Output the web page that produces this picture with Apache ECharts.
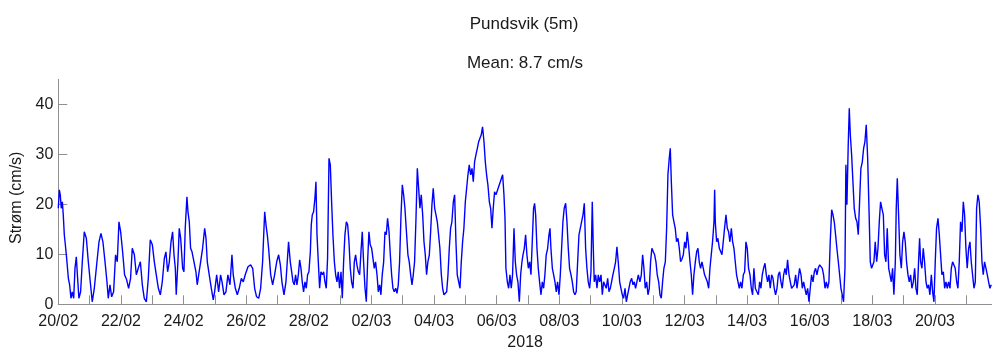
<!DOCTYPE html>
<html><head><meta charset="utf-8">
<script src="https://cdn.jsdelivr.net/npm/echarts@6/dist/echarts.min.js"></script>
<style>html,body{margin:0;padding:0;background:#fff}#c{width:992px;height:349px}</style>
</head><body><div id="c"></div>
<script>
const titleText = 'Pundsvik (5m)';
const subtitleText = 'Mean: 8.7 cm/s';
const yAxisName = 'Strøm (cm/s)';
const xAxisName = '2018';
// tick labels every 2 days, starting 20/02/2018 00:00
const dateLabels = ['20/02','22/02','24/02','26/02','28/02','02/03','04/03','06/03','08/03','10/03','12/03','14/03','16/03','18/03','20/03'];
const yTicks = [0, 10, 20, 30, 40];
// hours since 20/02/2018 00:00
const hours = [
0,0.8,1.5,2.3,3.1,3.8,4.6,5.4,6.4,7.7,8.7,9.7,10.7,11.8,12.8,13.8,14.8,15.8,17.1,18.4,19.9,21.5,23,24.5,26,27.6,29.4,31.2,32.7,34.2,35.8,37.3,38.3,39.6,40.9,42.4,43.9,45.2,46.5,47.8,49.3,50.8,52.4,53.9,55.4,56.7,58.3,59.8,61.3,62.9,64.4,65.9,67.5,69,70.5,72.1,73.6,75.1,76.7,78.2,79.7,81.3,82.5,83.8,85.1,86.4,
87.6,88.7,89.7,90.4,91.7,92.7,93.8,95.3,96.3,97.3,98.6,99.4,100.4,101.4,102.5,104,105.5,106.5,107.6,109.1,110.6,112.2,113.2,114.2,115.7,117.3,118.8,119.8,121.4,122.9,124.4,125.5,127,128.5,130,131.6,133.1,134.1,135.7,137.2,138.7,140.3,141.8,143.3,145.4,147.4,149,150.5,152,153.6,155.1,156.6,158.2,159.2,160.2,161.2,162.8,164.3,165.8,167.4,168.9,170.2,171.4,173,174.5,175.5,176.5,
177.8,178.9,179.9,180.9,181.9,182.9,184,185,186,187,188,189.1,190.1,191.1,192.1,193.2,193.9,194.7,195.7,196.7,197.5,198.3,199.3,200.3,201.3,202.4,203.4,204.4,205.4,206.4,207.5,208.5,209.5,210.5,211.6,212.6,213.6,214.6,215.6,216.7,217.7,218.7,219.7,220.8,221.8,222.8,223.8,224.8,225.9,226.9,227.9,228.9,230,231,232,233,234,235.1,236.1,237.1,238.1,239.1,240.2,241.2,242.2,243.2,244.3,245.3,246.3,247.3,248.3,249.4,250.4,251.4,252.4,253.5,254.5,255.5,256.5,257.5,258.6,259.6,260.6,261.6,262.7,263.7,264.7,265.7,
267,268,269,270.1,271.1,272.1,273.1,274.1,275.2,276.2,277.2,278.2,279.3,280.3,281.3,282.3,283.3,284.4,285.4,286.4,287.4,288.5,289.5,290.5,291.5,292.5,293.6,294.6,295.6,296.6,297.7,298.7,299.7,300.7,301.7,302.8,303.8,304.8,305.8,306.9,307.9,308.9,309.9,310.9,312,313,314,315,316.1,317.1,318.1,319.1,320.1,321.2,322.2,323.2,324.2,325.2,326.3,327.3,328.3,329.3,330.4,331.4,332.4,333.4,334.4,335.5,340.6,341.6,342.4,343.1,344.2,345.2,346.2,347.2,348.2,349.3,350.3,351.3,352.3,353.4,354.4,355.4,
356.2,357.2,358.2,359.2,360.3,361.3,362.3,363.3,364.3,365.1,365.9,366.9,367.9,368.9,370,371,372,373,374,375.1,376.1,376.9,377.6,378.7,379.7,380.7,381.7,382.7,383.8,384.8,385.8,386.8,387.8,388.9,389.9,390.9,391.9,393,394,395,396,397,398.1,399.1,400.1,401.1,402.2,403.2,404.2,405.2,406.2,407.3,408.3,409.3,410.1,410.8,411.9,412.9,413.9,414.9,416,417,418,419,420,421.1,422.1,423.1,424.1,425.1,426.2,427.2,428.2,429.2,430.3,431.3,432.3,433.3,434.4,435.4,436.4,437.4,438.4,439.5,440.5,441.5,442.5,443.5,444.6,
445.8,446.9,447.9,448.9,449.9,451,452,453,454,455,456.1,457.1,458.1,459.1,460.2,461.2,462.2,463.2,464.2,465.3,466.3,467.3,468.3,469.1,469.9,470.9,471.9,472.9,473.9,475,476,477,478,479.1,480.1,481.1,482.1,483.1,484.2,485.2,486.2,487.2,488.3,489.3,490.3,491.3,492.3,493.4,494.4,495.4,496.4,497.5,498.5,499.5,500.5,501.5,502.6,503.1,503.6,504.6,505.6,506.7,507.7,508.7,509.7,510.7,511.8,512.8,513.8,514.8,515.9,516.9,517.9,518.9,519.9,521,522,523,524,525.1,526.1,527.1,528.1,529.1,530.2,531.2,532.2,533.2,534.3,
535.5,536.6,537.6,538.6,539.6,540.6,541.7,542.7,543.7,544.7,545.7,546.8,547.8,548.8,549.8,550.9,551.9,552.9,553.9,554.9,556,557,558,559,560.1,561.1,562.1,563.1,564.1,565.2,566.2,567.2,568.2,569.3,570.3,571.3,572.3,573.3,574.4,575.4,576.4,577.4,578.5,579.5,580.5,581.5,582.5,583.6,584.6,585.6,586.6,587.7,588.7,589.7,590.7,591.7,592.8,593.8,594.8,595.8,596.8,597.9,598.9,599.9,600.9,601.9,603,603.7,604.5,605.5,606.3,607.1,608.1,609.1,610.1,611.2,612.2,613.2,614.2,615.2,616.3,617.3,618.3,619.3,620.4,621.4,622.4,623.4,
625.2,626.2,627.3,628.3,629.3,630.3,631.3,632.4,633.4,634.4,635.4,636.5,637.5,638.5,639.5,640.5,641.6,642.3,643.1,644.1,645.1,646.2,647.2,648.2,649.2,650.2,651.3,652.3,653.3,654.3,655.4,656.4,657.4,658.4,659.4,660.2,661,662,663,664,665.1,666.1,667.1,668.1,669.2,670.2,671.2,672.2,673.2,674.3,675.3,676.3,677.3,678.4,679.4,680.4,681.4,682.4,683.5,684.5,685.5,686.5,687.5,688.6,689.6,690.6,691.6,692.7,693.7,694.7,695.7,696.7,697.8,698.8,699.8,700.8,701.9,702.9,703.9,704.9,705.9,707,708,709,710,711.1,712.1,713.1,714.1,715.1
];
// current speed, cm/s
const speed = [
19.2,22.9,21.9,19.2,20.5,17.9,13.9,11.9,9.2,5.2,3.9,1.2,2.5,1.2,7.2,9.5,5.2,1.2,2.5,8.5,14.5,13.2,8.5,4.5,0.5,3.2,7.9,12.5,14.2,12.5,8.5,4.5,1.2,3.9,1.5,2.5,9.9,8.5,16.5,14.5,10.5,5.9,4.9,3.2,5.2,11.2,9.9,5.9,7.2,8.5,3.9,1.2,0.5,5.2,12.9,11.9,8.5,5.9,3.2,1.9,4.5,9.2,10.5,6.5,8.5,12.5,
14.5,9.9,7.2,1.9,8.5,15.2,13.2,7.2,6.5,15.2,21.5,18.5,16.5,11.2,10.5,8.5,6.5,3.9,5.9,8.5,11.2,15.2,13.2,8.5,5.9,3.2,0.9,2.5,5.9,2.5,5.9,4.5,1.9,2.5,5.9,3.9,9.9,5.9,3.2,1.9,3.2,5.2,4.5,5.9,7.5,7.9,7.2,3.2,1.5,1.2,3.2,8.5,18.5,15.9,13.9,11.2,5.9,3.9,5.9,8.5,9.9,7.9,4.5,1.9,4.5,8.5,12.5,
8.5,6.5,4.5,3.9,5.9,3.9,5.9,8.9,7.2,4.5,2.5,4.5,3.2,5.9,6.5,10.5,15.9,17.9,18.5,21.2,24.5,13.9,8.5,3.2,6.5,5.9,6.5,4.5,3.2,9.2,29.2,27.9,20.5,13.9,8.5,5.9,4.5,6.5,3.2,6.5,1.2,8.5,13.9,16.5,15.9,12.5,7.2,4.5,3.2,8.5,9.9,7.9,6.5,5.9,10.5,14.5,8.5,3.2,0.5,8.5,14.5,11.9,11.2,9.2,7.2,8.5,5.9,2.5,3.9,1.9,5.9,8.5,14.5,13.9,17.2,14.5,9.9,5.9,3.2,2.5,3.2,2.2,3.9,8.5,17.9,23.9,21.9,19.2,
13.9,9.9,8.5,5.9,3.9,5.9,8.5,16.5,27.2,23.2,19.2,21.9,17.9,12.5,9.9,5.9,8.5,9.9,14.5,19.9,23.2,19.2,17.9,16.5,13.9,11.2,5.9,3.2,1.9,1.9,2.5,5.9,11.2,15.2,16.5,20.5,21.9,12.5,5.9,4.5,3.2,8.5,12.5,15.2,20.5,23.2,25.9,27.9,25.9,27.2,24.5,28.5,29.9,31.2,32.5,33.2,33.9,35.5,32.5,28.5,25.9,23.9,20.5,19.2,15.2,19.2,22.5,21.9,25.9,21.9,17.2,7.2,4.5,3.2,5.9,3.2,5.9,15.2,8.5,5.9,4.5,0.5,5.9,8.5,
9.9,11.2,13.9,9.9,7.2,8.5,5.9,12.5,19.2,20.2,17.9,11.2,7.2,4.5,1.9,4.5,3.2,5.9,9.9,11.2,13.9,15.2,11.2,7.2,5.9,4.5,2.5,4.5,1.9,5.9,11.2,16.5,19.2,20.2,16.5,11.2,7.2,5.9,4.5,2.5,1.9,2.5,8.5,13.9,15.2,16.5,17.9,20.2,11.2,7.2,4.5,3.2,6.5,20.5,11.2,4.5,5.9,3.2,5.9,4.5,5.9,1.9,4.5,4.9,3.2,5.2,2.5,3.2,4.5,5.9,7.2,8.5,11.5,8.5,4.5,3.2,1.9,1.2,3.2,0.5,1.9,3.2,4.5,5.2,3.9,4.5,3.2,4.5,5.9,
4.5,5.9,9.9,7.2,3.2,4.5,1.9,3.2,8.5,11.2,10.5,9.9,8.5,5.9,4.5,1.9,1.2,4.5,7.2,8.5,15.2,25.9,29.2,31.2,24.5,17.9,16.5,15.2,12.5,13.2,11.2,8.5,9.0,9.9,12.5,11.2,14.5,11.9,8.5,5.9,1.9,5.9,8.5,10.5,11.2,8.5,7.2,8.5,7.2,5.9,5.5,4.5,3.2,7.2,9.9,12.5,16.5,22.9,16.5,12.5,13.2,11.2,11.6,9.9,12.5,15.2,17.9,15.2,14.5,12.5,15.2,12.5,11.2,8.5,5.9,4.5,3.2,4.5,3.2,5.9,6.5,12.5,11.2,7.2,5.9,3.2,1.9,7.2,3.2,
2.5,1.9,4.5,3.2,5.9,7.2,8.2,5.9,4.5,5.9,3.2,5.9,5.2,3.2,1.9,3.2,5.9,6.5,4.5,3.2,5.9,7.2,5.9,8.9,5.9,4.5,3.2,3.6,3.9,5.9,3.2,5.2,7.2,5.9,3.2,4.5,3.2,1.9,3.2,0.5,3.2,5.9,4.5,6.5,7.2,5.9,7.2,7.9,7.5,7.2,5.9,3.2,4.5,3.2,4.5,12.5,18.9,17.9,16.5,13.9,11.2,8.5,5.9,3.2,1.9,0.5,7.2,27.9,19.9,31.9,39.2,33.9,29.9,24.5,19.2,17.2,16.5,13.9,20.5,27.2,28.5,31.2,32.5,35.9,29.2,19.2,8.5,7.2,
8.5,12.5,8.5,11.2,16.5,20.5,19.2,17.9,9.9,8.5,15.2,7.2,5.9,4.5,7.2,1.9,8.5,19.2,25.2,17.9,9.9,7.2,12.5,14.5,12.5,8.5,5.9,4.5,5.9,3.2,4.5,7.2,3.2,1.9,8.5,13.2,8.5,7.2,11.2,8.5,4.5,3.2,3.9,1.9,5.9,2.5,0.5,8.5,15.2,17.2,13.9,9.9,5.9,6.5,3.2,4.5,3.2,4.5,3.2,7.2,8.5,8.9,7.2,4.5,3.2,8.5,16.5,14.5,20.5,17.9,11.2,7.2,11.2,12.5,8.5,5.9,3.2,4.5,19.2,21.9,20.5,15.2,8.5,5.9,8.5,7.2,5.9,4.5,3.2,3.9
];
const FONT = "'Liberation Sans', Arial, sans-serif";
const chart = echarts.init(document.getElementById('c'), null, {renderer: 'canvas'});
const dayTicks = Array.from({length: dateLabels.length * 2}, (_, i) => i * 24);
const labelTicks = dateLabels.map((_, i) => i * 48);
chart.setOption({
  animation: false,
  backgroundColor: '#fff',
  title: [
    {text: titleText, left: 524, top: 16, textAlign: 'center', padding: 0,
     textStyle: {fontSize: 17, fontWeight: 'normal', color: '#1a1a1a', fontFamily: FONT}},
    {text: subtitleText, left: 525, top: 55, textAlign: 'center', padding: 0,
     textStyle: {fontSize: 17, fontWeight: 'normal', color: '#1a1a1a', fontFamily: FONT}}
  ],
  grid: {left: 58.3, right: 0, top: 79.3, bottom: 44.7, containLabel: false, outerBoundsMode: 'none'},
  xAxis: {
    type: 'value', min: 0, max: 715.7,
    name: xAxisName, nameLocation: 'middle', nameGap: 28,
    nameTextStyle: {fontSize: 16, color: '#1a1a1a', fontFamily: FONT},
    axisLine: {lineStyle: {color: '#8f8f8f', width: 1}},
    axisTick: {inside: true, length: 9, customValues: dayTicks, lineStyle: {color: '#8f8f8f'}},
    axisLabel: {customValues: labelTicks, formatter: v => dateLabels[Math.round(v / 48)],
      fontSize: 16, color: '#1a1a1a', fontFamily: FONT, margin: 9},
    splitLine: {show: false}
  },
  yAxis: {
    type: 'value', min: 0, max: 45,
    name: yAxisName, nameLocation: 'middle', nameGap: 33, nameRotate: 90,
    nameTextStyle: {fontSize: 16, color: '#1a1a1a', fontFamily: FONT, padding: [0, 12, 0, 0]},
    axisLine: {show: true, lineStyle: {color: '#8f8f8f', width: 1}},
    axisTick: {show: true, inside: true, length: 9, customValues: yTicks, lineStyle: {color: '#8f8f8f'}},
    axisLabel: {customValues: yTicks, fontSize: 16, color: '#1a1a1a', fontFamily: FONT, margin: 5},
    splitLine: {show: false}
  },
  series: [{
    type: 'line',
    data: hours.map((h, i) => [h, speed[i]]),
    showSymbol: false,
    sampling: null,
    lineStyle: {color: '#0000ff', width: 1.4},
    itemStyle: {color: '#0000ff'}
  }]
});
</script>
</body></html>
